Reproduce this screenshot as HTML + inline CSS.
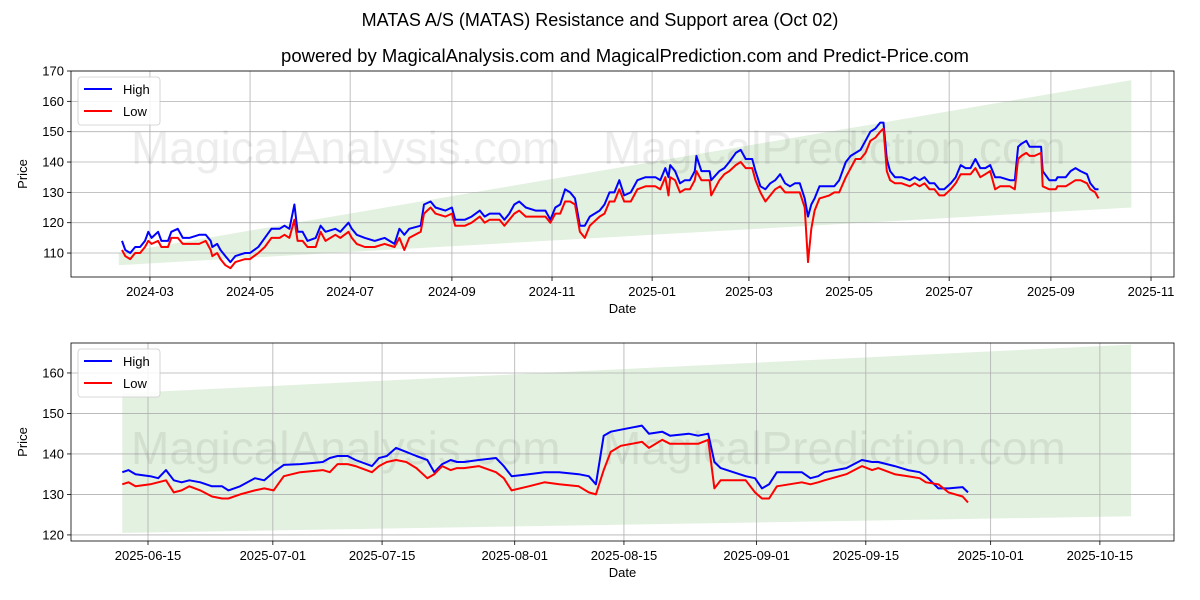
<!DOCTYPE html>
<html><head><meta charset="utf-8"><style>
body{margin:0;background:#fff;}
svg{display:block;font-family:"Liberation Sans","DejaVu Sans",sans-serif;}
</style></head><body>
<svg id="c" width="1200" height="600" viewBox="0 0 1200 600">
<text x="600" y="26" font-size="18" text-anchor="middle">MATAS A/S (MATAS) Resistance and Support area (Oct 02)</text>
<text x="625" y="62" font-size="18.5" text-anchor="middle">powered by MagicalAnalysis.com and MagicalPrediction.com and Predict-Price.com</text>
<g id="top"></g>
<g id="bot"></g>
</svg>
<script>
// ---- top chart data (days since 2024-03-01) ----
const topDays=[-17,-15,-12,-9,-6,-3,-1,1,5,7,11,13,17,20,24,30,34,37,38,41,43,46,49,52,58,61,66,70,74,79,82,85,88,90,93,96,101,104,107,113,116,121,123,126,131,137,143,149,152,155,158,165,167,171,174,180,184,186,189,192,196,201,204,207,213,216,219,222,225,229,235,241,244,247,250,253,256,259,262,265,268,274,277,280,283,286,289,293,297,302,308,311,314,316,317,320,323,326,329,332,333,336,341,342,347,350,353,357,360,363,367,369,372,375,378,381,384,387,390,393,396,399,401,403,405,408,414,417,420,424,427,430,433,436,439,442,445,447,449,451,454,458,463,466,469,472,475,478,481,484,488,491,494,497,500,503,506,509,512,515,518,524,527,529,531,534,536,539,543,544,548,552,553,558,561,564,567,571,573,576,578];
const topHigh=[114,111,110,112,112,114,117,115,117,114,114,117,118,115,115,116,116,114,112,113,111,109,107,109,110,110,112,115,118,118,119,118,126,117,117,114,115,119,117,118,117,120,118,116,115,114,115,113,118,116,118,119,126,127,125,124,125,121,121,121,122,124,122,123,123,121,123,126,127,125,124,124,121,125,126,131,130,128,119,119,122,124,126,130,130,134,129,130,134,135,135,134,138,135,139,137,133,134,134,137,142,137,137,134,137,138,140,143,144,141,141,137,132,131,133,134,136,133,132,133,133,128,122,126,128,132,132,132,134,140,142,143,144,147,150,151,153,153,141,137,135,135,134,135,134,135,133,133,131,131,133,135,139,138,138,141,138,138,139,135,135,134,134,145,146,147,145,145,145,137,134,134,135,135,137,138,137,136,133,131,131];
const topLow=[111,109,108,110,110,112,114,113,114,112,112,115,115,113,113,113,114,111,109,110,108,106,105,107,108,108,110,112,115,115,116,115,121,114,114,112,112,117,114,116,115,117,115,113,112,112,113,112,115,111,115,117,123,125,123,122,123,119,119,119,120,122,120,121,121,119,121,123,124,122,122,122,120,123,123,127,127,126,117,115,119,122,123,127,127,131,127,127,131,132,132,131,135,129,135,134,130,131,131,134,137,134,134,129,134,136,137,139,140,138,138,134,130,127,129,131,132,130,130,130,130,125,107,118,124,128,129,130,130,135,138,141,141,143,147,148,150,151,137,134,133,133,132,133,132,133,131,131,129,129,131,133,136,136,136,138,135,136,137,131,132,132,131,141,142,143,142,142,143,132,131,131,132,132,133,134,134,133,131,130,128];
const topBandDays=[-19,598];
const topBandUpper=[110,167];
const topBandLower=[106,125];
const topXTickDays=[0,61,122,184,245,306,365,426,487,549,610];
const topXTickLabels=["2024-03","2024-05","2024-07","2024-09","2024-11","2025-01","2025-03","2025-05","2025-07","2025-09","2025-11"];
const topYTicks=[110,120,130,140,150,160,170];
// ---- bottom chart data (days since 2025-06-15) ----
const botDays=[-3.3,-2.5,-1.6,0.3,1.3,2.3,3.3,4.3,5.3,6.7,8.2,9.5,10.3,11.8,13.7,14.9,16.1,17.4,19.5,22.4,23.3,24.3,25.6,26.6,28.7,29.6,30.6,31.8,33.1,34.4,35.8,36.7,37.7,38.8,39.6,40.5,42.4,44.6,45.6,46.6,48.8,50.8,52.7,55.2,56.5,57.4,58.4,59.3,60.6,62.8,63.3,64.2,65.9,66.9,69.3,70.5,71.8,72.6,73.4,76.6,77.8,78.7,79.6,80.6,83.8,84.9,85.9,86.7,89.5,91.5,92.8,93.6,95.7,97.4,98.9,99.7,101.3,102.6,104.4,105.1];
const botHigh=[135.5,136,135,134.5,134,136,133.5,133,133.5,133,132,132,131,132,134,133.5,135.5,137.3,137.5,138,139,139.5,139.5,138.5,137,139,139.5,141.5,140.5,139.5,138.5,135.5,137.5,138.5,138,138,138.5,139,137,134.5,135,135.5,135.5,135,134.5,132.5,144.5,145.5,146,146.8,147,145,145.5,144.5,145,144.5,145,138,136.5,134.5,134,131.5,132.5,135.5,135.5,134,134.5,135.5,136.5,138.5,138,138,137,136,135.5,134.5,131.5,131.5,131.8,130.5];
const botLow=[132.5,133,132,132.5,133,133.5,130.5,131,132,131,129.5,129,129,130,131,131.5,131,134.5,135.5,136,135.5,137.5,137.5,137,135.5,137,138,138.5,138,136.5,134,135,137,136,136.5,136.5,137,135.5,134,131,132,133,132.5,132,130.5,130,136,140.5,142,142.8,143,141.5,143.5,142.5,142.5,142.5,143.5,131.5,133.5,133.5,130.5,129,129,132,133,132.5,133,133.5,135,137,136,136.5,135,134.5,134,133,132.5,130.5,129.5,128];
const botBandDays=[-3.3,126];
const botBandUpper=[155,167];
const botBandLower=[120.5,124.6];
const botXTickDays=[0,16,30,47,61,78,92,108,122];
const botXTickLabels=["2025-06-15","2025-07-01","2025-07-15","2025-08-01","2025-08-15","2025-09-01","2025-09-15","2025-10-01","2025-10-15"];
const botYTicks=[120,130,140,150,160];

const NS="http://www.w3.org/2000/svg";
function mk(tag,attrs,parent){const e=document.createElementNS(NS,tag);for(const k in attrs)e.setAttribute(k,attrs[k]);parent.appendChild(e);return e;}

function panel(g,box,xd,yd,days,hi,lo,bd,bu,bl,xt,xl,yt,wm1,wm2,wmY){
  const X=d=>box.l+(d-xd[0])/(xd[1]-xd[0])*(box.r-box.l);
  const Y=v=>box.b-(v-yd[0])/(yd[1]-yd[0])*(box.b-box.t);
  const pts=[];
  for(let i=0;i<bd.length;i++)pts.push(X(bd[i])+","+Y(bu[i]));
  for(let i=bd.length-1;i>=0;i--)pts.push(X(bd[i])+","+Y(bl[i]));
  const band=mk("polygon",{points:pts.join(" "),fill:"#e3f1e0"},g);
  
  
  xt.forEach((d,i)=>{
    const x=X(d);
    const gl=mk("line",{x1:x,x2:x,y1:box.t,y2:box.b,stroke:"#b0b0b0","stroke-width":0.8},g);
    
    
    mk("line",{x1:x,x2:x,y1:box.b,y2:box.b+4,stroke:"#000","stroke-width":0.8},g);
    const t=mk("text",{x:x,y:box.b+19,"font-size":13,"text-anchor":"middle"},g);
    t.textContent=xl[i];
    
    
  });
  yt.forEach(v=>{
    const y=Y(v);
    const gl=mk("line",{x1:box.l,x2:box.r,y1:y,y2:y,stroke:"#b0b0b0","stroke-width":0.8},g);
    
    
    mk("line",{x1:box.l-4,x2:box.l,y1:y,y2:y,stroke:"#000","stroke-width":0.8},g);
    const t=mk("text",{x:box.l-7,y:y+4.5,"font-size":13,"text-anchor":"end"},g);
    t.textContent=v;
    
    
  });
  const w1=mk("text",{x:box.l+60,y:wmY,"font-size":46,fill:"#000","fill-opacity":0.07},g);
  w1.textContent=wm1;
  
  
  const w2=mk("text",{x:box.l+532,y:wmY,"font-size":46,fill:"#000","fill-opacity":0.07},g);
  w2.textContent=wm2;
  
  
  const hp=days.map((d,i)=>X(d).toFixed(1)+","+Y(hi[i]).toFixed(1)).join(" ");
  const lp=days.map((d,i)=>X(d).toFixed(1)+","+Y(lo[i]).toFixed(1)).join(" ");
  const hl=mk("polyline",{points:hp,fill:"none",stroke:"#0000ff","stroke-width":2,"stroke-linejoin":"round"},g);
  
  
  const ll=mk("polyline",{points:lp,fill:"none",stroke:"#ff0000","stroke-width":2,"stroke-linejoin":"round"},g);
  
  
  const fr=mk("rect",{x:box.l,y:box.t,width:box.r-box.l,height:box.b-box.t,fill:"none",stroke:"#000","stroke-width":0.8},g);
  
  
  const xa=mk("text",{x:(box.l+box.r)/2,y:box.b+36,"font-size":13,"text-anchor":"middle"},g);
  xa.textContent="Date";
  
  
  const cy=(box.t+box.b)/2;
  const ya=mk("text",{x:27,y:cy,"font-size":13,"text-anchor":"middle",transform:"rotate(-90 27 "+cy+")"},g);
  ya.textContent="Price";
  
  
  const lg=mk("g",{},g);
  
  
  mk("rect",{x:box.l+7,y:box.t+6,width:82,height:48,rx:3,fill:"#fff","fill-opacity":0.85,stroke:"#ccc","stroke-width":0.8},lg);
  [["High","#0000ff",22],["Low","#ff0000",44]].forEach(([n,c,dy])=>{
    const e=mk("g",{},lg);
    
    
    mk("line",{x1:box.l+13,x2:box.l+41,y1:box.t+dy-4,y2:box.t+dy-4,stroke:c,"stroke-width":2},e);
    const t=mk("text",{x:box.l+52,y:box.t+dy+1,"font-size":13},e);
    t.textContent=n;
  });
}
panel(document.getElementById("top"),{l:71,r:1174,t:71,b:277},[-48.1,624],[102.1,170],
  topDays,topHigh,topLow,topBandDays,topBandUpper,topBandLower,topXTickDays,topXTickLabels,topYTicks,
  "MagicalAnalysis.com","MagicalPrediction.com",164);
panel(document.getElementById("bot"),{l:71,r:1174,t:343,b:541},[-9.87,131.5],[118.5,167.4],
  botDays,botHigh,botLow,botBandDays,botBandUpper,botBandLower,botXTickDays,botXTickLabels,botYTicks,
  "MagicalAnalysis.com","MagicalPrediction.com",464);
</script>
</body></html>
